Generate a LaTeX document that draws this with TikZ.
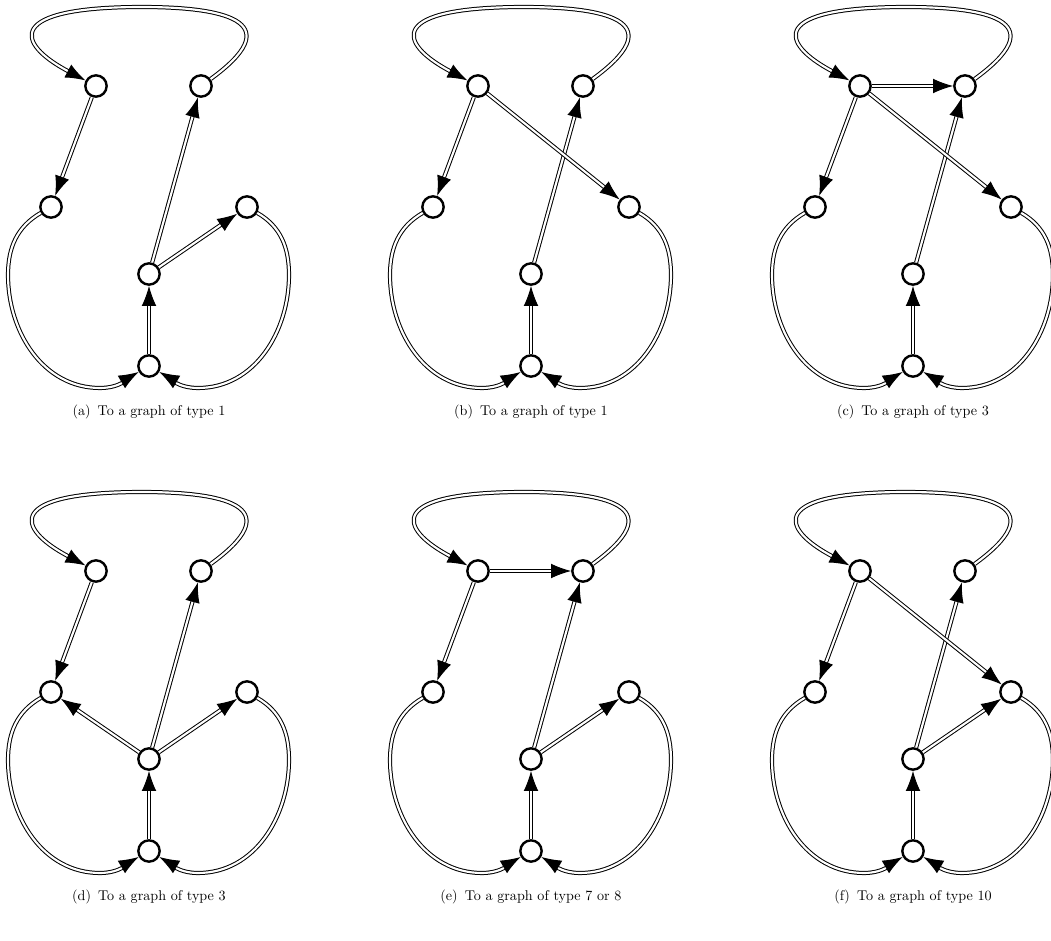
\documentclass[tikz,border=0pt]{standalone}
\usetikzlibrary{arrows.meta}
\tikzset{
  vtx/.style={circle, draw, line width=1.8pt, fill=white, minimum size=16pt, inner sep=0pt},
  dl/.style={draw, line width=0.75pt, double distance=1.6pt},
  ar/.style={dl, -{Latex[length=15pt,width=11pt]}},
  captext/.style={font=\fontsize{10.6}{12}\selectfont, inner sep=0pt},
}
\newcommand\basegraph{%
  \node[vtx] (A) at (96,86) {};
  \node[vtx] (B) at (201,86) {};
  \node[vtx] (C) at (51,207) {};
  \node[vtx] (D) at (247,207) {};
  \node[vtx] (E) at (149,274) {};
  \node[vtx] (F) at (149,366) {};
  \draw[ar] (B) .. controls (285,25) and (235,7) .. (142,7) .. controls (5,7) and (15,43) .. (A);
  \draw[ar] (C) to[out=210,in=90] (8,275) to[out=-90,in=180] (100,388) to[out=0,in=210] (F);
  \draw[ar] (D) to[out=-30,in=90] (289,275) to[out=-90,in=0] (198,388) to[out=180,in=-30] (F);
  \draw[ar] (F) -- (E);
  \draw[ar] (A) -- (C);
  \draw[ar] (E) -- (B);
}
\begin{document}
\begin{tikzpicture}[x=0.75pt, y=-0.75pt]
\useasboundingbox (0,0) rectangle (1051,941);
% (a)
\begin{scope}[name prefix=a-]
  \basegraph
  \draw[ar] (E) -- (D);
  \node[captext] (lbl) at (149,412) {(a)\enspace To a graph of type 1};
\end{scope}
% (b)
\begin{scope}[shift={(382,0)}, name prefix=b-]
  \basegraph
  \draw[ar] (A) -- (D);
  \node[captext] (lbl) at (149,412) {(b)\enspace To a graph of type 1};
\end{scope}
% (c)
\begin{scope}[shift={(764,0)}, name prefix=c-]
  \basegraph
  \draw[ar] (A) -- (D);
  \draw[ar] (A) -- (B);
  \node[captext] (lbl) at (149,412) {(c)\enspace To a graph of type 3};
\end{scope}
% (d)
\begin{scope}[shift={(0,485)}, name prefix=d-]
  \basegraph
  \draw[ar] (E) -- (D);
  \draw[ar] (E) -- (C);
  \node[captext] (lbl) at (149,412) {(d)\enspace To a graph of type 3};
\end{scope}
% (e)
\begin{scope}[shift={(382,485)}, name prefix=e-]
  \basegraph
  \draw[ar] (E) -- (D);
  \draw[ar] (A) -- (B);
  \node[captext] (lbl) at (149,412) {(e)\enspace To a graph of type 7 or 8};
\end{scope}
% (f)
\begin{scope}[shift={(764,485)}, name prefix=f-]
  \basegraph
  \draw[ar] (E) -- (D);
  \draw[ar] (A) -- (D);
  \node[captext] (lbl) at (149,412) {(f)\enspace To a graph of type 10};
\end{scope}
\end{tikzpicture}
\end{document}
